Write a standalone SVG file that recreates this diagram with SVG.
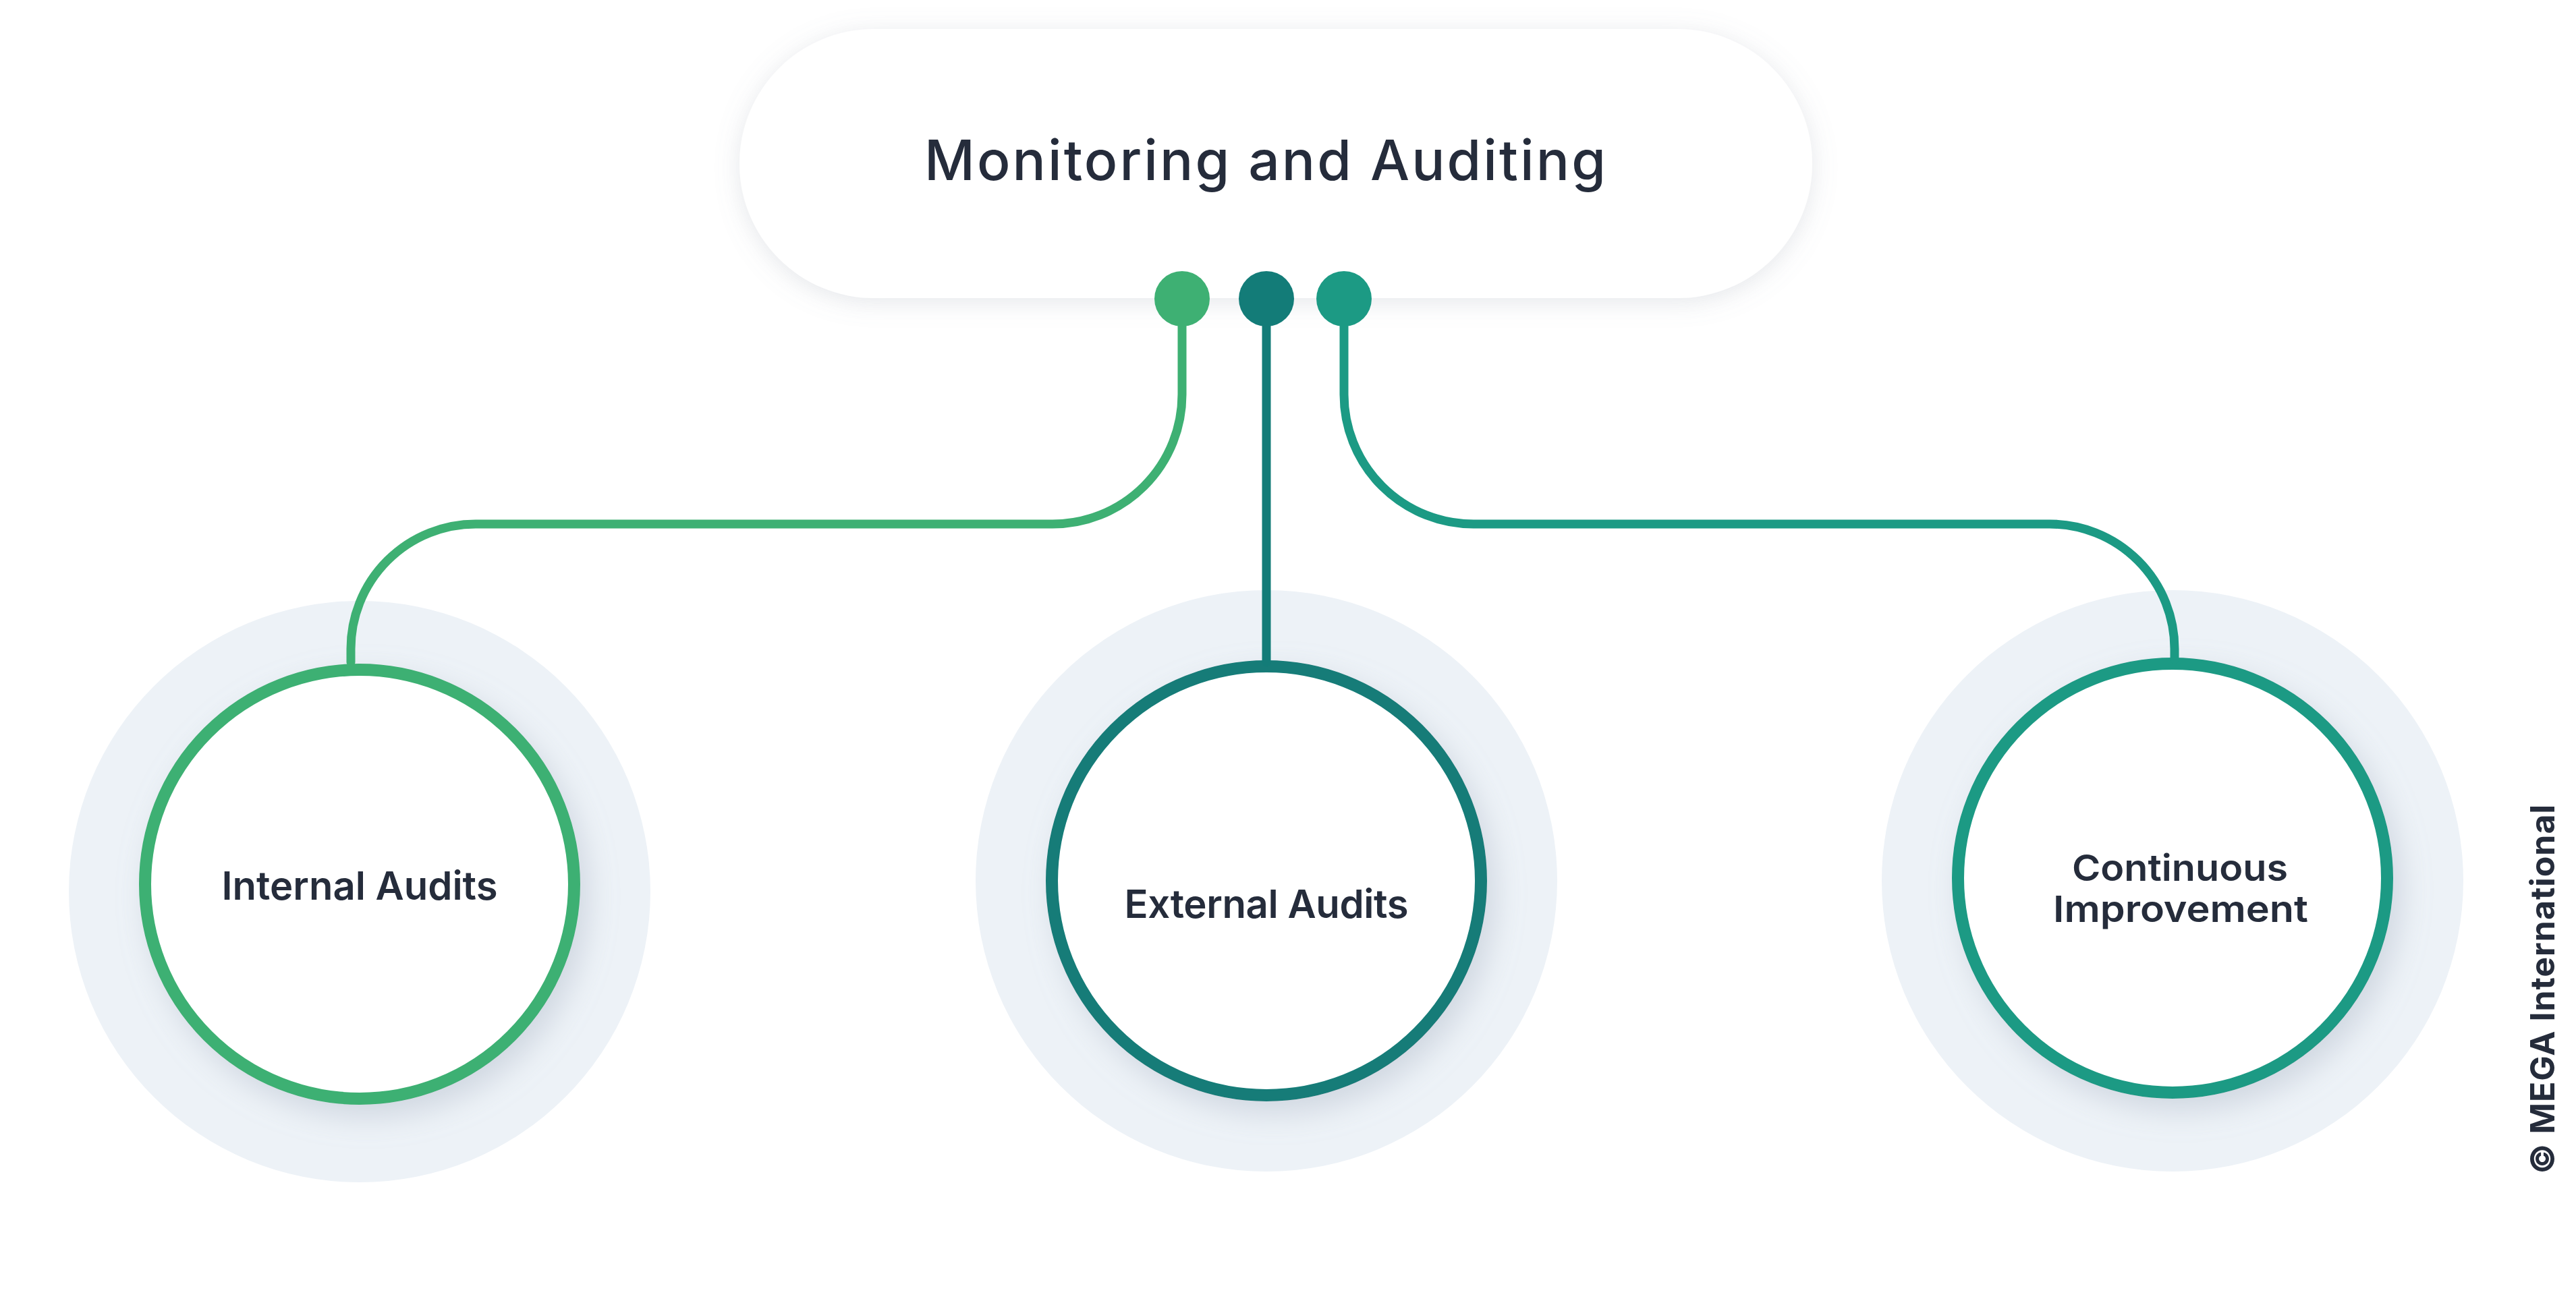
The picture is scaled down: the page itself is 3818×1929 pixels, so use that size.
<svg xmlns="http://www.w3.org/2000/svg" width="3818" height="1929" viewBox="0 0 3818 1929">
<defs>
<filter id="pillShadow" x="-10%" y="-30%" width="120%" height="160%">
<feDropShadow dx="0" dy="6" stdDeviation="18" flood-color="#8a93a0" flood-opacity="0.22"/>
</filter>
<filter id="circShadow" x="-30%" y="-30%" width="160%" height="160%">
<feDropShadow dx="12" dy="18" stdDeviation="22" flood-color="#9aa6b8" flood-opacity="0.35"/>
</filter>
<style>
.halo{fill:#edf2f7}
.ring{fill:#ffffff;stroke-width:18;filter:url(#circShadow)}
.lbl{font-family:Inter,"Open Sans","Liberation Sans",sans-serif;font-weight:600;font-size:58px;fill:#252c3b;text-anchor:middle}
.lbl2{font-size:54px}
.title{font-family:Inter,"Open Sans","Liberation Sans",sans-serif;font-weight:500;font-size:82px;fill:#252c3b;text-anchor:middle}
.conn{fill:none;stroke-width:13;stroke-linecap:round}
</style>
</defs>
<rect width="3818" height="1929" fill="#ffffff"/>

<g id="node-monitoring">
<rect x="1096" y="43" width="1590" height="399" rx="199.5" fill="#ffffff" filter="url(#pillShadow)"/>
<text class="title" x="1875" y="267" textLength="1010">Monitoring and Auditing</text>
</g>

<g id="node-internal">
<circle class="halo" cx="533" cy="1322" r="431"/>
<circle class="ring" cx="533" cy="1311" r="318" stroke="#3eb073"/>
<text class="lbl" x="533" y="1334" textLength="409">Internal Audits</text>
</g>

<g id="node-external">
<circle class="halo" cx="1877" cy="1306" r="431"/>
<circle class="ring" cx="1877" cy="1306" r="318" stroke="#137c78"/>
<text class="lbl" x="1877" y="1361" textLength="421">External Audits</text>
</g>

<g id="node-continuous">
<circle class="halo" cx="3220" cy="1306" r="431"/>
<circle class="ring" cx="3220" cy="1302" r="318" stroke="#1c9a84"/>
<text class="lbl lbl2" x="3231" y="1306" textLength="320" lengthAdjust="spacingAndGlyphs">Continuous</text>
<text class="lbl lbl2" x="3232" y="1367" textLength="378" lengthAdjust="spacingAndGlyphs">Improvement</text>
</g>

<g id="connectors">
<path class="conn" stroke="#3eb073" d="M1752,443 V585 A192,192 0 0 1 1560,777 H705 A185,185 0 0 0 520,962 V982"/>
<path class="conn" stroke="#137c78" d="M1877,443 V982"/>
<path class="conn" stroke="#1c9a84" d="M1992,443 V585 A192,192 0 0 0 2184,777 H3038 A185,185 0 0 1 3223,962 V978"/>
<circle cx="1752" cy="443" r="41" fill="#3eb073"/>
<circle cx="1877" cy="443" r="41" fill="#137c78"/>
<circle cx="1992" cy="443" r="41" fill="#1c9a84"/>
</g>

<text transform="translate(3786,1741) rotate(-90)" font-family="Inter,'Liberation Sans',sans-serif" font-weight="700" font-size="50" fill="#252c3b" textLength="548">© MEGA International</text>
</svg>
